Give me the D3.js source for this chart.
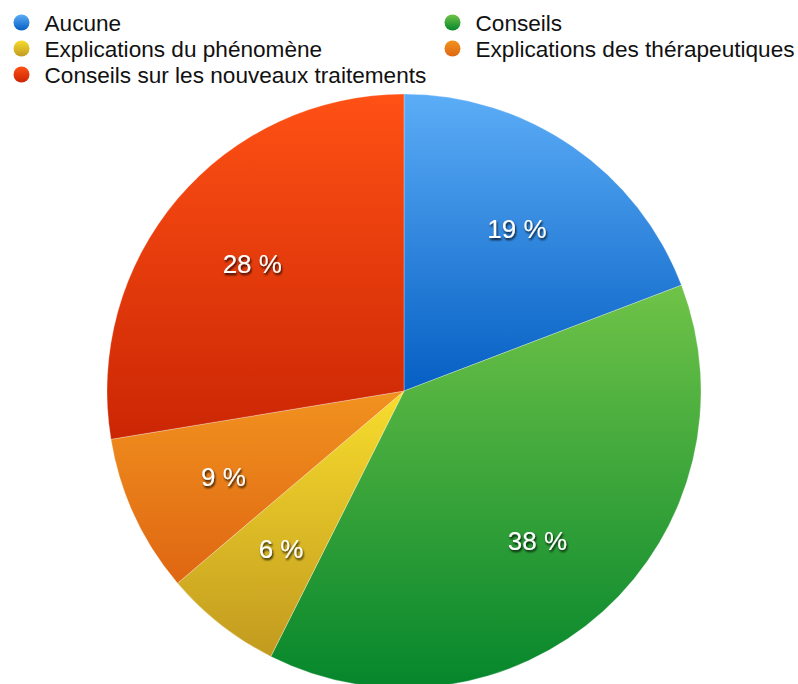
<!DOCTYPE html>
<html>
<head>
<meta charset="utf-8">
<script src="https://cdn.jsdelivr.net/npm/d3@7"></script>
<style>
  body { margin: 0; background: #fff; }
  text { font-family: 'Liberation Sans', Arial, Helvetica, sans-serif; }
</style>
</head>
<body>
<div id="chart"></div>
<script>
let categories = ['Aucune', 'Conseils', 'Explications du phénomène', 'Explications des thérapeutiques', 'Conseils sur les nouveaux traitements']
let values = [19.2, 38.2, 6.4, 8.6, 27.6]
let labels = ['19 %', '38 %', '6 %', '9 %', '28 %']
let topColors = ['#5cadf7', '#70c348', '#f8dd2d', '#f1921f', '#ff5115']
let bottomColors = ['#055fc3', '#05862c', '#c29a1f', '#df6612', '#cb2604']

let width = 798
let height = 684
let cx = 404
let cy = 391
let radius = 297

let svg = d3.select('#chart')
  .append('svg')
  .attr('width', width)
  .attr('height', height)

let defs = svg.append('defs')
categories.forEach((c, i) => {
  let g = defs.append('linearGradient')
    .attr('id', 'grad' + i)
    .attr('x1', 0).attr('y1', 0)
    .attr('x2', 0).attr('y2', 1)
  g.append('stop').attr('offset', '0%').attr('stop-color', topColors[i])
  g.append('stop').attr('offset', '100%').attr('stop-color', bottomColors[i])
})

defs.append('filter')
  .attr('id', 'shadow')
  .attr('x', '-20%').attr('y', '-20%')
  .attr('width', '140%').attr('height', '160%')
  .append('feDropShadow')
  .attr('dx', 1)
  .attr('dy', 2)
  .attr('stdDeviation', 1.3)
  .attr('flood-color', '#000')
  .attr('flood-opacity', 0.85)

let pie = d3.pie().sort(null).value(d => d)
let arcs = pie(values)
let arc = d3.arc().innerRadius(0).outerRadius(radius)
let labelArc = d3.arc().innerRadius(radius * 0.67).outerRadius(radius * 0.67)

let rootG = svg.append('g').attr('transform', 'translate(' + cx + ',' + cy + ')')

rootG.selectAll('path.slice')
  .data(arcs)
  .enter()
  .append('path')
  .attr('class', 'slice')
  .attr('d', arc)
  .attr('fill', (d, i) => 'url(#grad' + i + ')')
  .attr('stroke', 'rgba(255,255,255,0.35)')
  .attr('stroke-width', 0.8)

rootG.selectAll('text.pct')
  .data(arcs)
  .enter()
  .append('text')
  .attr('class', 'pct')
  .attr('transform', d => 'translate(' + labelArc.centroid(d) + ')')
  .attr('text-anchor', 'middle')
  .attr('dy', '0.42em')
  .attr('fill', '#fff')
  .attr('filter', 'url(#shadow)')
  .style('font-size', '26px')
  .text((d, i) => labels[i])

// legend: two columns, filled row by row
let legendX = [21.5, 452.5]
let legendY = [22.5, 48.5, 74.5]
let legend = svg.append('g').attr('class', 'legend')
  .selectAll('g')
  .data(categories)
  .enter()
  .append('g')
  .attr('transform', (d, i) => 'translate(' + legendX[i % 2] + ',' + legendY[Math.floor(i / 2)] + ')')

legend.append('circle')
  .attr('r', 8)
  .attr('fill', (d, i) => 'url(#grad' + i + ')')

legend.append('text')
  .attr('x', 23)
  .attr('dy', '0.36em')
  .attr('fill', '#111')
  .style('font-size', '22.6px')
  .text(d => d)
</script>
</body>
</html>
